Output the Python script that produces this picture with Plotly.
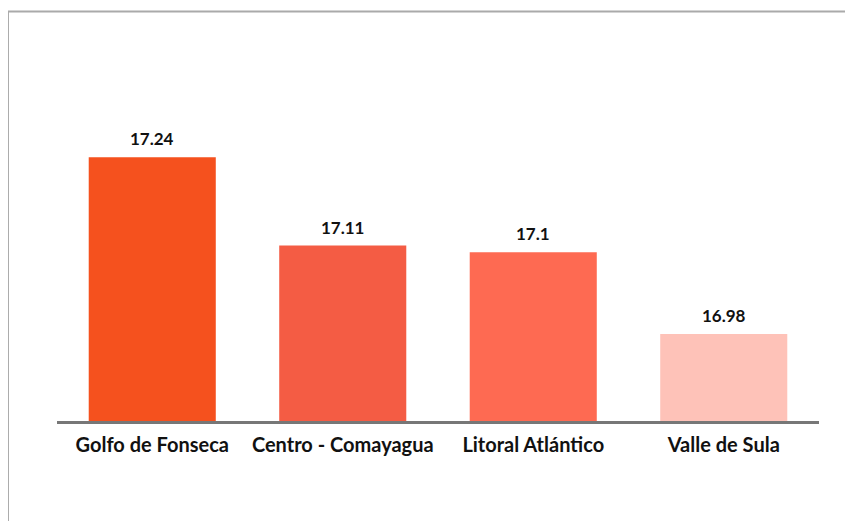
import plotly.graph_objects as go

categories = ["Golfo de Fonseca", "Centro - Comayagua", "Litoral Atlántico", "Valle de Sula"]
values = [17.24, 17.11, 17.1, 16.98]
value_labels = ["17.24", "17.11", "17.1", "16.98"]

bar_colors = ["#F5511E", "#F45C44", "#FE6A52", "#FEC2B8"]

W, H = 853, 521
# page is shown with an 8px body offset
OFF = 8
ml, mr, mt, mb = 57 - OFF, W + OFF - 818.6, 47 - OFF, H + OFF - 421

fig = go.Figure()
fig.add_trace(go.Bar(
    x=categories, y=values,
    marker=dict(color=bar_colors, line=dict(width=0)),
    width=0.667,
    hoverinfo="skip",
))

for c, v, t in zip(categories, values, value_labels):
    fig.add_annotation(
        x=c, y=v, text=t, showarrow=False,
        yanchor="bottom", yshift=6,
        font=dict(family="Lato", size=17, color="#111111", weight="bold"),
    )

pw = W - ml - mr
ph = H - mt - mb
x_left = (8 - OFF - ml) / pw
y_top = (H - mb - (11.5 - OFF)) / ph

fig.add_shape(type="line", xref="paper", yref="paper",
              x0=x_left, x1=(W + 10 - ml) / pw, y0=y_top, y1=y_top,
              line=dict(color="#AAAAAA", width=2))
fig.add_shape(type="line", xref="paper", yref="paper",
              x0=x_left, x1=x_left, y0=y_top, y1=-(mb + 10) / ph,
              line=dict(color="#AAAAAA", width=2))

fig.update_layout(
    width=W, height=H,
    margin=dict(l=ml, r=mr, t=mt, b=mb),
    paper_bgcolor="white", plot_bgcolor="white",
    showlegend=False,
    bargap=0.333,
    xaxis=dict(
        showline=True, linecolor="#777777", linewidth=3,
        showgrid=False, ticks="", zeroline=False,
        tickfont=dict(family="Lato", size=20, color="#111111", weight="bold"),
        ticklabelstandoff=4,
        fixedrange=True,
    ),
    yaxis=dict(
        range=[16.852, 17.402], visible=False, showgrid=False, zeroline=False,
        fixedrange=True,
    ),
)

fig.write_html("out.html")
